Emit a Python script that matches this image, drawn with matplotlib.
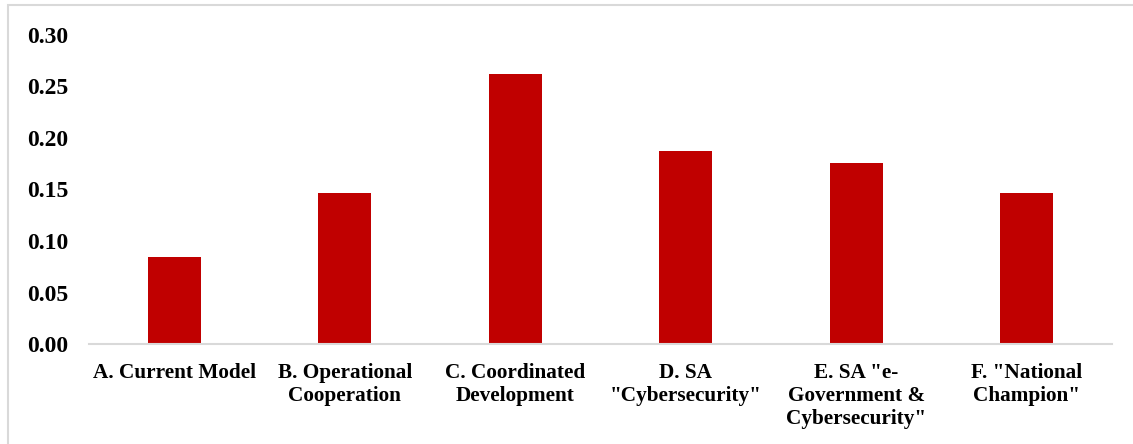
import matplotlib
matplotlib.use("Agg")
import matplotlib.pyplot as plt
from matplotlib.patches import Rectangle

# =========================
# データ
# =========================
categories = [
    "A. Current Model",
    "B. Operational\nCooperation",
    "C. Coordinated\nDevelopment",
    "D. SA\n\"Cybersecurity\"",
    "E. SA \"e-\nGovernment &\nCybersecurity\"",
    "F. \"National\nChampion\"",
]
values = [0.084, 0.147, 0.262, 0.187, 0.176, 0.147]
y_ticks = [0.00, 0.05, 0.10, 0.15, 0.20, 0.25, 0.30]

BAR_COLOR = "#C00000"
LINE_COLOR = "#D9D9D9"

plt.rcParams["font.family"] = ["Liberation Serif", "DejaVu Serif"]
plt.rcParams["font.weight"] = "bold"

fig = plt.figure(figsize=(11.33, 4.44), dpi=100)
ax = fig.add_axes([0.0786, 0.2252, 0.9029, 0.696])

x = range(len(categories))
ax.bar(x, values, width=0.31, color=BAR_COLOR)

ax.set_xlim(-0.5, len(categories) - 0.5)
ax.set_ylim(0, 0.30)
ax.set_yticks(y_ticks)
ax.set_yticklabels([f"{v:.2f}" for v in y_ticks], fontsize=17, fontweight="bold")
ax.set_xticks(list(x))
ax.set_xticklabels(categories, fontsize=15.3, fontweight="bold", linespacing=1.18, va="top")

ax.tick_params(axis="y", length=0, pad=15)
ax.tick_params(axis="x", length=0, pad=14)

for side in ["top", "right", "left"]:
    ax.spines[side].set_visible(False)
ax.spines["bottom"].set_color(LINE_COLOR)
ax.spines["bottom"].set_linewidth(1.5)

# 外枠（左と上だけ見える）
fig.patches.append(Rectangle((8 / 1133, -0.5), 2.0, 1.5 - 5 / 444,
                             transform=fig.transFigure, fill=False,
                             edgecolor=LINE_COLOR, linewidth=1.5))

plt.savefig("out.png", dpi=100)
